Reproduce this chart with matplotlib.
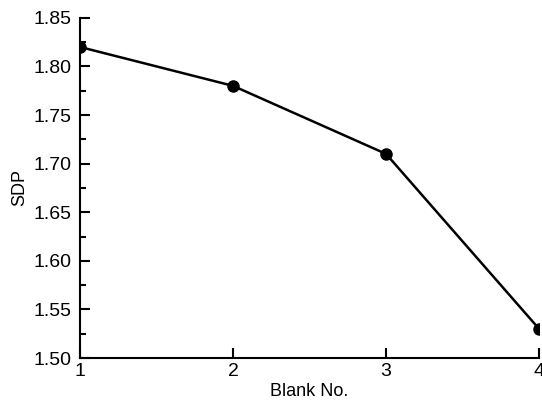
import matplotlib
matplotlib.use("Agg")
import matplotlib.pyplot as plt
from matplotlib.ticker import MultipleLocator

blank_no = [1, 2, 3, 4]
sdp = [1.82, 1.78, 1.71, 1.53]

plt.rcParams['font.family'] = ['Liberation Sans', 'DejaVu Sans']

fig = plt.figure(figsize=(5.42, 4.05), dpi=100)
ax = fig.add_axes([0.1476, 0.116, 0.847, 0.84])

ax.plot(blank_no, sdp, color='black', linewidth=1.8, marker='o',
        markersize=8, clip_on=True)

ax.set_xlim(1, 4)
ax.set_ylim(1.50, 1.85)
ax.set_xticks(blank_no)
ax.yaxis.set_major_locator(MultipleLocator(0.05))
ax.yaxis.set_minor_locator(MultipleLocator(0.025))
ax.yaxis.set_major_formatter(plt.FormatStrFormatter('%.2f'))

ax.spines['top'].set_visible(False)
ax.spines['right'].set_visible(False)
for s in ('left', 'bottom'):
    ax.spines[s].set_linewidth(1.5)

ax.tick_params(which='major', direction='in', length=7, width=1.5, labelsize=14)
ax.tick_params(axis='y', which='major', pad=6)
ax.tick_params(which='minor', direction='in', length=4, width=1.5)

ax.set_xlabel('Blank No.', fontsize=13, labelpad=2)
ax.set_ylabel('SDP', fontsize=13, labelpad=4)

fig.savefig('out.png', dpi=100)
